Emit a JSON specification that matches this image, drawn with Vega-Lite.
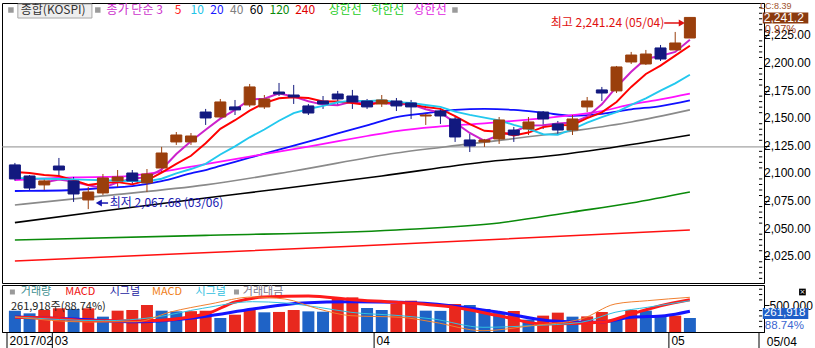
{
"$schema": "https://vega.github.io/schema/vega-lite/v6.json",
"padding": {"left": 1, "top": 1, "right": 0, "bottom": 0},
"background": "white",
"spacing": 0,
"resolve": {"scale": {"color": "independent"}},
"config": {"view": {"stroke": "#000000", "strokeWidth": 1}, "axis": {"labelOverlap": false}},
"datasets": {
"ref": [{"level": 2124}],
"plabels": [{"p":2025},{"p":2050},{"p":2075},{"p":2100},{"p":2125},{"p":2150},{"p":2175},{"p":2200},{"p":2225}],
"ptick": [{"p":2005},{"p":2010},{"p":2015},{"p":2020},{"p":2030},{"p":2035},{"p":2040},{"p":2045},{"p":2055},{"p":2060},{"p":2065},{"p":2070},{"p":2080},{"p":2085},{"p":2090},{"p":2095},{"p":2105},{"p":2110},{"p":2115},{"p":2120},{"p":2130},{"p":2135},{"p":2140},{"p":2145},{"p":2155},{"p":2160},{"p":2165},{"p":2170},{"p":2180},{"p":2185},{"p":2190},{"p":2195},{"p":2205},{"p":2210},{"p":2215},{"p":2220},{"p":2230},{"p":2235},{"p":2240},{"p":2245},{"p":2250}],
"vtick": [{"v":100000},{"v":200000},{"v":300000},{"v":400000},{"v":600000},{"v":700000},{"v":800000}],
"months": [{"b":-0.538},{"b":2.55},{"b":24.48},{"b":44.57},{"b":50.71}],
"candles": [
{"i":0,"d":"02/24","o":2107.7,"h":2109.5,"l":2093.5,"c":2095.0},
{"i":1,"d":"02/27","o":2097.7,"h":2098.6,"l":2085.0,"c":2086.8},
{"i":2,"d":"02/28","o":2089.6,"h":2095.0,"l":2085.0,"c":2093.2},
{"i":3,"d":"03/02","o":2106.7,"h":2114.0,"l":2096.8,"c":2103.1},
{"i":4,"d":"03/03","o":2093.2,"h":2096.8,"l":2074.2,"c":2081.4},
{"i":5,"d":"03/06","o":2076.0,"h":2087.7,"l":2067.68,"c":2083.2},
{"i":6,"d":"03/07","o":2082.3,"h":2099.5,"l":2080.5,"c":2095.9},
{"i":7,"d":"03/08","o":2093.2,"h":2103.1,"l":2087.7,"c":2096.8},
{"i":8,"d":"03/09","o":2100.4,"h":2103.1,"l":2090.5,"c":2093.2},
{"i":9,"d":"03/10","o":2091.4,"h":2104.0,"l":2083.2,"c":2099.5},
{"i":10,"d":"03/13","o":2104.9,"h":2124.0,"l":2101.3,"c":2118.5},
{"i":11,"d":"03/14","o":2128.5,"h":2137.5,"l":2125.8,"c":2134.8},
{"i":12,"d":"03/15","o":2128.5,"h":2136.6,"l":2125.8,"c":2133.9},
{"i":13,"d":"03/16","o":2155.6,"h":2158.4,"l":2143.9,"c":2150.2},
{"i":14,"d":"03/17","o":2151.1,"h":2167.4,"l":2149.3,"c":2164.7},
{"i":15,"d":"03/20","o":2160.2,"h":2166.5,"l":2152.9,"c":2157.5},
{"i":16,"d":"03/21","o":2162.0,"h":2181.0,"l":2160.2,"c":2178.3},
{"i":17,"d":"03/22","o":2160.2,"h":2171.0,"l":2158.4,"c":2167.4},
{"i":18,"d":"03/23","o":2173.7,"h":2181.9,"l":2170.1,"c":2171.9},
{"i":19,"d":"03/24","o":2171.0,"h":2180.1,"l":2162.9,"c":2169.2},
{"i":20,"d":"03/27","o":2161.1,"h":2162.9,"l":2152.9,"c":2154.7},
{"i":21,"d":"03/28","o":2165.6,"h":2170.1,"l":2158.4,"c":2162.9},
{"i":22,"d":"03/29","o":2171.9,"h":2174.7,"l":2162.0,"c":2167.4},
{"i":23,"d":"03/30","o":2170.1,"h":2175.6,"l":2158.4,"c":2164.7},
{"i":24,"d":"03/31","o":2165.6,"h":2167.4,"l":2158.4,"c":2160.2},
{"i":25,"d":"04/03","o":2162.9,"h":2171.0,"l":2160.2,"c":2166.5},
{"i":26,"d":"04/04","o":2165.6,"h":2168.3,"l":2156.5,"c":2161.1},
{"i":27,"d":"04/05","o":2163.8,"h":2166.5,"l":2149.3,"c":2160.2},
{"i":28,"d":"04/06","o":2152.0,"h":2154.1,"l":2143.9,"c":2152.9},
{"i":29,"d":"04/07","o":2156.5,"h":2158.4,"l":2144.8,"c":2152.0},
{"i":30,"d":"04/10","o":2149.3,"h":2151.1,"l":2128.5,"c":2133.0},
{"i":31,"d":"04/11","o":2130.3,"h":2135.7,"l":2119.4,"c":2124.9},
{"i":32,"d":"04/12","o":2128.5,"h":2131.2,"l":2124.0,"c":2130.3},
{"i":33,"d":"04/13","o":2131.2,"h":2151.1,"l":2126.7,"c":2148.4},
{"i":34,"d":"04/14","o":2139.3,"h":2142.1,"l":2128.5,"c":2134.8},
{"i":35,"d":"04/17","o":2140.2,"h":2151.1,"l":2134.8,"c":2146.6},
{"i":36,"d":"04/18","o":2155.6,"h":2156.5,"l":2140.2,"c":2149.3},
{"i":37,"d":"04/19","o":2144.8,"h":2147.5,"l":2134.8,"c":2139.3},
{"i":38,"d":"04/20","o":2139.3,"h":2152.9,"l":2134.8,"c":2149.3},
{"i":39,"d":"04/21","o":2160.2,"h":2169.2,"l":2155.6,"c":2165.6},
{"i":40,"d":"04/24","o":2175.6,"h":2178.3,"l":2165.6,"c":2172.8},
{"i":41,"d":"04/25","o":2174.7,"h":2197.3,"l":2172.8,"c":2196.4},
{"i":42,"d":"04/26","o":2200.9,"h":2210.0,"l":2199.1,"c":2207.2},
{"i":43,"d":"04/27","o":2199.1,"h":2211.8,"l":2198.2,"c":2208.1},
{"i":44,"d":"04/28","o":2213.6,"h":2216.3,"l":2201.8,"c":2203.6},
{"i":45,"d":"05/02","o":2211.8,"h":2228.1,"l":2211.8,"c":2218.1},
{"i":46,"d":"05/04","o":2222.6,"h":2241.24,"l":2222.6,"c":2241.24}
],
"ma": [
{"s":"3","i":2,"v":2091.7},{"s":"3","i":3,"v":2094.4},{"s":"3","i":4,"v":2092.6},{"s":"3","i":5,"v":2089.2},{"s":"3","i":6,"v":2086.8},{"s":"3","i":7,"v":2092.0},{"s":"3","i":8,"v":2095.3},{"s":"3","i":9,"v":2096.5},{"s":"3","i":10,"v":2103.7},{"s":"3","i":11,"v":2117.6},{"s":"3","i":12,"v":2129.1},{"s":"3","i":13,"v":2139.6},{"s":"3","i":14,"v":2149.6},{"s":"3","i":15,"v":2157.5},{"s":"3","i":16,"v":2166.8},{"s":"3","i":17,"v":2167.7},{"s":"3","i":18,"v":2172.5},{"s":"3","i":19,"v":2169.5},{"s":"3","i":20,"v":2165.3},{"s":"3","i":21,"v":2162.3},{"s":"3","i":22,"v":2161.7},{"s":"3","i":23,"v":2165.0},{"s":"3","i":24,"v":2164.1},{"s":"3","i":25,"v":2163.8},{"s":"3","i":26,"v":2162.6},{"s":"3","i":27,"v":2162.6},{"s":"3","i":28,"v":2158.1},{"s":"3","i":29,"v":2155.0},{"s":"3","i":30,"v":2146.0},{"s":"3","i":31,"v":2136.6},{"s":"3","i":32,"v":2129.4},{"s":"3","i":33,"v":2134.5},{"s":"3","i":34,"v":2137.8},{"s":"3","i":35,"v":2143.3},{"s":"3","i":36,"v":2143.6},{"s":"3","i":37,"v":2145.1},{"s":"3","i":38,"v":2146.0},{"s":"3","i":39,"v":2151.4},{"s":"3","i":40,"v":2162.6},{"s":"3","i":41,"v":2178.3},{"s":"3","i":42,"v":2192.1},{"s":"3","i":43,"v":2203.9},{"s":"3","i":44,"v":2206.3},{"s":"3","i":45,"v":2210.0},{"s":"3","i":46,"v":2221.0},
{"s":"5","i":0,"v":2101.3},{"s":"5","i":1,"v":2100.4},{"s":"5","i":2,"v":2098.6},{"s":"5","i":3,"v":2097.7},{"s":"5","i":4,"v":2094.0},{"s":"5","i":5,"v":2089.5},{"s":"5","i":6,"v":2091.4},{"s":"5","i":7,"v":2092.1},{"s":"5","i":8,"v":2090.1},{"s":"5","i":9,"v":2093.7},{"s":"5","i":10,"v":2100.8},{"s":"5","i":11,"v":2108.6},{"s":"5","i":12,"v":2116.0},{"s":"5","i":13,"v":2127.4},{"s":"5","i":14,"v":2140.4},{"s":"5","i":15,"v":2148.2},{"s":"5","i":16,"v":2156.9},{"s":"5","i":17,"v":2163.6},{"s":"5","i":18,"v":2168.0},{"s":"5","i":19,"v":2168.9},{"s":"5","i":20,"v":2168.3},{"s":"5","i":21,"v":2165.2},{"s":"5","i":22,"v":2165.2},{"s":"5","i":23,"v":2163.8},{"s":"5","i":24,"v":2162.0},{"s":"5","i":25,"v":2164.3},{"s":"5","i":26,"v":2164.0},{"s":"5","i":27,"v":2162.5},{"s":"5","i":28,"v":2160.2},{"s":"5","i":29,"v":2158.5},{"s":"5","i":30,"v":2151.8},{"s":"5","i":31,"v":2144.6},{"s":"5","i":32,"v":2138.6},{"s":"5","i":33,"v":2137.7},{"s":"5","i":34,"v":2134.3},{"s":"5","i":35,"v":2137.0},{"s":"5","i":36,"v":2141.9},{"s":"5","i":37,"v":2143.7},{"s":"5","i":38,"v":2143.9},{"s":"5","i":39,"v":2150.0},{"s":"5","i":40,"v":2155.3},{"s":"5","i":41,"v":2164.7},{"s":"5","i":42,"v":2178.3},{"s":"5","i":43,"v":2190.0},{"s":"5","i":44,"v":2197.6},{"s":"5","i":45,"v":2206.7},{"s":"5","i":46,"v":2215.6},
{"s":"10","i":0,"v":2096.0},{"s":"10","i":1,"v":2095.5},{"s":"10","i":2,"v":2095.2},{"s":"10","i":3,"v":2095.0},{"s":"10","i":4,"v":2094.6},{"s":"10","i":5,"v":2094.2},{"s":"10","i":6,"v":2093.8},{"s":"10","i":7,"v":2093.4},{"s":"10","i":8,"v":2093.0},{"s":"10","i":9,"v":2092.8},{"s":"10","i":10,"v":2095.2},{"s":"10","i":11,"v":2100.0},{"s":"10","i":12,"v":2104.0},{"s":"10","i":13,"v":2108.7},{"s":"10","i":14,"v":2117.1},{"s":"10","i":15,"v":2124.5},{"s":"10","i":16,"v":2132.7},{"s":"10","i":17,"v":2139.8},{"s":"10","i":18,"v":2147.7},{"s":"10","i":19,"v":2154.6},{"s":"10","i":20,"v":2158.3},{"s":"10","i":21,"v":2161.1},{"s":"10","i":22,"v":2164.4},{"s":"10","i":23,"v":2165.9},{"s":"10","i":24,"v":2165.4},{"s":"10","i":25,"v":2166.3},{"s":"10","i":26,"v":2164.6},{"s":"10","i":27,"v":2163.9},{"s":"10","i":28,"v":2162.0},{"s":"10","i":29,"v":2160.3},{"s":"10","i":30,"v":2156.0},{"s":"10","i":31,"v":2153.0},{"s":"10","i":32,"v":2150.5},{"s":"10","i":33,"v":2148.0},{"s":"10","i":34,"v":2144.0},{"s":"10","i":35,"v":2140.4},{"s":"10","i":36,"v":2135.5},{"s":"10","i":37,"v":2135.0},{"s":"10","i":38,"v":2140.0},{"s":"10","i":39,"v":2146.0},{"s":"10","i":40,"v":2151.0},{"s":"10","i":41,"v":2155.5},{"s":"10","i":42,"v":2162.0},{"s":"10","i":43,"v":2168.0},{"s":"10","i":44,"v":2175.0},{"s":"10","i":45,"v":2181.5},{"s":"10","i":46,"v":2189.4},
{"s":"20","i":0,"v":2084.1},{"s":"20","i":2,"v":2084.3},{"s":"20","i":4,"v":2085.0},{"s":"20","i":6,"v":2086.8},{"s":"20","i":8,"v":2088.5},{"s":"20","i":10,"v":2093.0},{"s":"20","i":12,"v":2100.0},{"s":"20","i":13,"v":2103.1},{"s":"20","i":14,"v":2106.8},{"s":"20","i":16,"v":2114.2},{"s":"20","i":18,"v":2121.6},{"s":"20","i":20,"v":2128.8},{"s":"20","i":22,"v":2136.2},{"s":"20","i":24,"v":2143.5},{"s":"20","i":26,"v":2150.9},{"s":"20","i":28,"v":2154.5},{"s":"20","i":30,"v":2157.5},{"s":"20","i":32,"v":2158.4},{"s":"20","i":34,"v":2157.5},{"s":"20","i":36,"v":2155.0},{"s":"20","i":38,"v":2152.2},{"s":"20","i":40,"v":2154.0},{"s":"20","i":42,"v":2158.0},{"s":"20","i":44,"v":2161.0},{"s":"20","i":46,"v":2166.2},
{"s":"40","i":0,"v":2071.4},{"s":"40","i":6,"v":2079.6},{"s":"40","i":13,"v":2089.6},{"s":"40","i":19,"v":2102.2},{"s":"40","i":26,"v":2118.5},{"s":"40","i":31,"v":2126.7},{"s":"40","i":38,"v":2138.4},{"s":"40","i":42,"v":2146.6},{"s":"40","i":46,"v":2157.5},
{"s":"60","i":0,"v":2055.5},{"s":"60","i":6,"v":2066.0},{"s":"60","i":13,"v":2077.8},{"s":"60","i":18,"v":2085.9},{"s":"60","i":25,"v":2097.7},{"s":"60","i":32,"v":2110.4},{"s":"60","i":37,"v":2116.7},{"s":"60","i":40,"v":2122.1},{"s":"60","i":46,"v":2134.8},
{"s":"120","i":0,"v":2039.8},{"s":"120","i":13,"v":2043.9},{"s":"120","i":26,"v":2048.8},{"s":"120","i":33,"v":2055.2},{"s":"120","i":38,"v":2065.1},{"s":"120","i":42,"v":2073.2},{"s":"120","i":46,"v":2083.2},
{"s":"240","i":0,"v":2020.8},{"s":"240","i":23,"v":2034.0},{"s":"240","i":46,"v":2048.8},
{"s":"env","i":0,"v":2094.0},{"s":"env","i":4,"v":2096.5},{"s":"env","i":7,"v":2097.0},{"s":"env","i":10,"v":2101.5},{"s":"env","i":13,"v":2108.5},{"s":"env","i":16,"v":2115.3},{"s":"env","i":20,"v":2124.2},{"s":"env","i":24,"v":2133.9},{"s":"env","i":26,"v":2138.4},{"s":"env","i":29,"v":2142.5},{"s":"env","i":32,"v":2145.3},{"s":"env","i":35,"v":2148.7},{"s":"env","i":38,"v":2152.8},{"s":"env","i":40,"v":2156.5},{"s":"env","i":42,"v":2162.5},{"s":"env","i":44,"v":2167.0},{"s":"env","i":46,"v":2172.2}
],
"vol": [
{"i":0,"v":398000,"up":0},{"i":1,"v":349000,"up":0},{"i":2,"v":411000,"up":1},{"i":3,"v":443000,"up":1},{"i":4,"v":430000,"up":0},{"i":5,"v":443000,"up":1},{"i":6,"v":287000,"up":0},{"i":7,"v":399000,"up":1},{"i":8,"v":411000,"up":1},{"i":9,"v":505000,"up":1},{"i":10,"v":399000,"up":0},{"i":11,"v":386000,"up":0},{"i":12,"v":390000,"up":1},{"i":13,"v":398000,"up":1},{"i":14,"v":262000,"up":0},{"i":15,"v":324000,"up":1},{"i":16,"v":411000,"up":1},{"i":17,"v":368000,"up":0},{"i":18,"v":375000,"up":1},{"i":19,"v":411000,"up":1},{"i":20,"v":386000,"up":0},{"i":21,"v":380000,"up":0},{"i":22,"v":630000,"up":1},{"i":23,"v":648000,"up":1},{"i":24,"v":449000,"up":0},{"i":25,"v":411000,"up":0},{"i":26,"v":524000,"up":1},{"i":27,"v":586000,"up":1},{"i":28,"v":399000,"up":0},{"i":29,"v":395000,"up":0},{"i":30,"v":524000,"up":1},{"i":31,"v":505000,"up":0},{"i":32,"v":430000,"up":0},{"i":33,"v":355000,"up":0},{"i":34,"v":393000,"up":1},{"i":35,"v":231000,"up":0},{"i":36,"v":306000,"up":1},{"i":37,"v":362000,"up":1},{"i":38,"v":287000,"up":0},{"i":39,"v":292000,"up":1},{"i":40,"v":374000,"up":1},{"i":41,"v":224000,"up":0},{"i":42,"v":411000,"up":1},{"i":43,"v":399000,"up":0},{"i":44,"v":293000,"up":0},{"i":45,"v":306000,"up":1},{"i":46,"v":261918,"up":0}
],
"macd": [
{"s":"macd","i":0,"m":2.7},{"s":"macd","i":3,"m":1.5},{"s":"macd","i":5,"m":-0.7},{"s":"macd","i":9,"m":-0.7},{"s":"macd","i":13,"m":6},{"s":"macd","i":15,"m":18},{"s":"macd","i":17,"m":23},{"s":"macd","i":20,"m":24},{"s":"macd","i":23,"m":20.3},{"s":"macd","i":26,"m":17.7},{"s":"macd","i":30,"m":12.5},{"s":"macd","i":33,"m":4.3},{"s":"macd","i":36,"m":-4},{"s":"macd","i":40,"m":-2.3},{"s":"macd","i":42,"m":6},{"s":"macd","i":44,"m":14.3},{"s":"macd","i":46,"m":20.3},
{"s":"signal","i":0,"m":3},{"s":"signal","i":4,"m":1},{"s":"signal","i":8.3,"m":-1.7},{"s":"signal","i":12.8,"m":3.3},{"s":"signal","i":16.2,"m":11},{"s":"signal","i":19.6,"m":17},{"s":"signal","i":22.9,"m":18.3},{"s":"signal","i":26.3,"m":17.7},{"s":"signal","i":29.7,"m":14.3},{"s":"signal","i":33,"m":7.7},{"s":"signal","i":36.4,"m":-0.7},{"s":"signal","i":39.7,"m":-2.3},{"s":"signal","i":42,"m":2.7},{"s":"signal","i":44.3,"m":4.3},{"s":"signal","i":46,"m":8.7},
{"s":"macd2","i":0,"m":3},{"s":"macd2","i":5,"m":-2},{"s":"macd2","i":8.3,"m":-1.7},{"s":"macd2","i":10.6,"m":8},{"s":"macd2","i":13.3,"m":16},{"s":"macd2","i":16.2,"m":23},{"s":"macd2","i":18.4,"m":21},{"s":"macd2","i":20.7,"m":11},{"s":"macd2","i":22.9,"m":4.3},{"s":"macd2","i":26.3,"m":2.7},{"s":"macd2","i":28.5,"m":-2},{"s":"macd2","i":31.9,"m":-10.7},{"s":"macd2","i":35.2,"m":-5.7},{"s":"macd2","i":38.6,"m":1},{"s":"macd2","i":40.9,"m":16},{"s":"macd2","i":43.1,"m":19.3},{"s":"macd2","i":46,"m":22.7},
{"s":"signal2","i":0,"m":3},{"s":"signal2","i":6.1,"m":-0.7},{"s":"signal2","i":9.5,"m":2.7},{"s":"signal2","i":12.8,"m":11.7},{"s":"signal2","i":16.2,"m":18.3},{"s":"signal2","i":18.4,"m":17},{"s":"signal2","i":20.7,"m":12.7},{"s":"signal2","i":22.9,"m":7.7},{"s":"signal2","i":26.3,"m":4.3},{"s":"signal2","i":28.5,"m":1},{"s":"signal2","i":31.9,"m":-7.3},{"s":"signal2","i":35.2,"m":-5.7},{"s":"signal2","i":38.6,"m":-2.3},{"s":"signal2","i":40.9,"m":7.7},{"s":"signal2","i":43.1,"m":12.7},{"s":"signal2","i":46,"m":19.3}
]
},
"vconcat": [
{
"width": 762, "height": 280,
"layer": [
{"data": {"name": "ref"}, "mark": {"type": "rule", "color": "#8c8c8c", "strokeWidth": 1},
 "encoding": {"y": {"field": "level", "type": "quantitative", "scale": {"domain": [2000.8, 2254.3], "nice": false, "zero": false},
   "axis": {"orient": "right", "title": null, "grid": false, "domainColor": "#000000", "tickColor": "#000000", "tickSize": 5, "labels": false,
    "values": [2025, 2050, 2075, 2100, 2125, 2150, 2175, 2200, 2225]}}}},
{"data": {"name": "ptick"}, "mark": {"type": "rule", "color": "#000000", "strokeWidth": 1},
 "encoding": {"x": {"datum": 50.71, "type": "quantitative", "scale": {"domain": [-0.538, 50.71], "nice": false, "zero": false}, "axis": null}, "x2": {"datum": 50.93}, "y": {"field": "p", "type": "quantitative"}}},
{"data": {"name": "plabels"}, "mark": {"type": "text", "align": "left", "baseline": "middle", "font": "Liberation Sans", "fontSize": 12, "color": "#000000"},
 "encoding": {"x": {"datum": 51.05, "type": "quantitative", "axis": null}, "y": {"field": "p", "type": "quantitative"}, "text": {"field": "p", "type": "quantitative", "format": ",.2f"}}},
{"data": {"name": "ma"}, "transform": [{"filter": {"field": "s", "oneOf": ["240", "120", "60", "40", "env", "20"]}}],
 "mark": {"type": "line", "interpolate": "monotone"},
 "encoding": {
  "x": {"field": "i", "type": "quantitative", "axis": null},
  "y": {"field": "v", "type": "quantitative"},
  "color": {"field": "s", "type": "nominal", "scale": {"domain": ["3", "5", "10", "20", "40", "60", "120", "240", "env"], "range": ["#cc22cc", "#ff0000", "#22c8ee", "#1010ff", "#8a8a8a", "#000000", "#0a8a0a", "#ff1010", "#ff10ff"]}, "legend": null},
  "strokeWidth": {"field": "s", "type": "nominal", "scale": {"domain": ["240", "120", "60", "40", "env", "20"], "range": [1.5, 2, 2.5, 1, 3.5, 2.5]}, "legend": null},
  "order": {"field": "i"}
 }},
{"data": {"name": "candles"}, "mark": {"type": "rule", "strokeWidth": 1},
 "encoding": {
  "x": {"field": "i", "type": "quantitative", "axis": null},
  "y": {"field": "l", "type": "quantitative"},
  "y2": {"field": "h"},
  "color": {"condition": {"test": "datum.c >= datum.o", "value": "#9a3f0c"}, "value": "#12197f"}
 }},
{"data": {"name": "ma"}, "transform": [{"filter": {"field": "s", "oneOf": ["10", "5", "3"]}}],
 "mark": {"type": "line"},
 "encoding": {
  "x": {"field": "i", "type": "quantitative", "axis": null},
  "y": {"field": "v", "type": "quantitative"},
  "color": {"field": "s", "type": "nominal", "scale": {"domain": ["3", "5", "10", "20", "40", "60", "120", "240", "env"], "range": ["#cc22cc", "#ff0000", "#22c8ee", "#1010ff", "#8a8a8a", "#000000", "#0a8a0a", "#ff1010", "#ff10ff"]}, "legend": null},
  "strokeWidth": {"field": "s", "type": "nominal", "scale": {"domain": ["10", "5", "3"], "range": [2.5, 2.5, 1]}, "legend": null},
  "order": {"field": "i"}
 }},
{"data": {"name": "candles"}, "mark": {"type": "bar", "width": 11, "strokeWidth": 1},
 "encoding": {
  "x": {"field": "i", "type": "quantitative", "axis": null},
  "y": {"field": "o", "type": "quantitative"},
  "y2": {"field": "c"},
  "fill": {"condition": {"test": "datum.c >= datum.o", "value": "#9a3f0c"}, "value": "#12197f"},
  "stroke": {"condition": {"test": "datum.c >= datum.o", "value": "#9a3f0c"}, "value": "#12197f"}
 }},
{"data": {"values": [{}]}, "mark": {"type": "point", "shape": "square", "filled": true, "size": 30, "color": "#9a9a9a", "opacity": 1},
 "encoding": {"x": {"datum": -0.27, "type": "quantitative", "axis": null}, "y": {"datum": 2247.96, "type": "quantitative"}}},
{"data": {"values": [{}]}, "mark": {"type": "rect", "fill": "#eeeeee", "stroke": "#a8a8a8", "strokeWidth": 1},
 "encoding": {"x": {"datum": 0.2, "type": "quantitative", "axis": null}, "x2": {"datum": 5.25}, "y": {"datum": 2253.4, "type": "quantitative"}, "y2": {"datum": 2240.7}}},
{"data": {"values": [{}]}, "mark": {"type": "text", "text": "종합(KOSPI)", "align": "left", "baseline": "middle", "font": "Noto Sans CJK KR", "fontSize": 12, "color": "#333333"},
 "encoding": {"x": {"datum": 0.4, "type": "quantitative", "axis": null}, "y": {"datum": 2247.96, "type": "quantitative"}}},
{"data": {"values": [{}]}, "mark": {"type": "point", "shape": "square", "filled": true, "size": 30, "color": "#9a9a9a", "opacity": 1},
 "encoding": {"x": {"datum": 5.65, "type": "quantitative", "axis": null}, "y": {"datum": 2247.96, "type": "quantitative"}}},
{"data": {"values": [{}]}, "mark": {"type": "text", "text": "종가 단순 3", "align": "left", "baseline": "middle", "font": "Noto Sans CJK KR", "fontSize": 12, "color": "#cc33cc"},
 "encoding": {"x": {"datum": 6.25, "type": "quantitative", "axis": null}, "y": {"datum": 2247.96, "type": "quantitative"}}},
{"data": {"values": [{}]}, "mark": {"type": "text", "text": "5", "align": "left", "baseline": "middle", "font": "Noto Sans CJK KR", "fontSize": 12, "color": "#ff2020"},
 "encoding": {"x": {"datum": 10.89, "type": "quantitative", "axis": null}, "y": {"datum": 2247.96, "type": "quantitative"}}},
{"data": {"values": [{}]}, "mark": {"type": "text", "text": "10", "align": "left", "baseline": "middle", "font": "Noto Sans CJK KR", "fontSize": 12, "color": "#22c4e8"},
 "encoding": {"x": {"datum": 11.97, "type": "quantitative", "axis": null}, "y": {"datum": 2247.96, "type": "quantitative"}}},
{"data": {"values": [{}]}, "mark": {"type": "text", "text": "20", "align": "left", "baseline": "middle", "font": "Noto Sans CJK KR", "fontSize": 12, "color": "#1a1aff"},
 "encoding": {"x": {"datum": 13.32, "type": "quantitative", "axis": null}, "y": {"datum": 2247.96, "type": "quantitative"}}},
{"data": {"values": [{}]}, "mark": {"type": "text", "text": "40", "align": "left", "baseline": "middle", "font": "Noto Sans CJK KR", "fontSize": 12, "color": "#808080"},
 "encoding": {"x": {"datum": 14.66, "type": "quantitative", "axis": null}, "y": {"datum": 2247.96, "type": "quantitative"}}},
{"data": {"values": [{}]}, "mark": {"type": "text", "text": "60", "align": "left", "baseline": "middle", "font": "Noto Sans CJK KR", "fontSize": 12, "color": "#000000"},
 "encoding": {"x": {"datum": 16.01, "type": "quantitative", "axis": null}, "y": {"datum": 2247.96, "type": "quantitative"}}},
{"data": {"values": [{}]}, "mark": {"type": "text", "text": "120", "align": "left", "baseline": "middle", "font": "Noto Sans CJK KR", "fontSize": 12, "color": "#0a8a0a"},
 "encoding": {"x": {"datum": 17.35, "type": "quantitative", "axis": null}, "y": {"datum": 2247.96, "type": "quantitative"}}},
{"data": {"values": [{}]}, "mark": {"type": "text", "text": "240", "align": "left", "baseline": "middle", "font": "Noto Sans CJK KR", "fontSize": 12, "color": "#e00000"},
 "encoding": {"x": {"datum": 19.1, "type": "quantitative", "axis": null}, "y": {"datum": 2247.96, "type": "quantitative"}}},
{"data": {"values": [{}]}, "mark": {"type": "text", "text": "상한선", "align": "left", "baseline": "middle", "font": "Noto Sans CJK KR", "fontSize": 12, "color": "#22cc22"},
 "encoding": {"x": {"datum": 21.39, "type": "quantitative", "axis": null}, "y": {"datum": 2247.96, "type": "quantitative"}}},
{"data": {"values": [{}]}, "mark": {"type": "text", "text": "하한선", "align": "left", "baseline": "middle", "font": "Noto Sans CJK KR", "fontSize": 12, "color": "#22cc22"},
 "encoding": {"x": {"datum": 24.28, "type": "quantitative", "axis": null}, "y": {"datum": 2247.96, "type": "quantitative"}}},
{"data": {"values": [{}]}, "mark": {"type": "text", "text": "상한선", "align": "left", "baseline": "middle", "font": "Noto Sans CJK KR", "fontSize": 12, "color": "#e022e0"},
 "encoding": {"x": {"datum": 27.17, "type": "quantitative", "axis": null}, "y": {"datum": 2247.96, "type": "quantitative"}}},
{"data": {"values": [{}]}, "mark": {"type": "point", "shape": "square", "filled": true, "size": 30, "color": "#9a9a9a", "opacity": 1},
 "encoding": {"x": {"datum": 29.99, "type": "quantitative", "axis": null}, "y": {"datum": 2247.96, "type": "quantitative"}}},
{"data": {"values": [{}]}, "mark": {"type": "text", "text": "최고 2,241.24 (05/04)", "align": "left", "baseline": "middle", "font": "Noto Sans CJK KR", "fontSize": 12, "color": "#e01010"},
 "encoding": {"x": {"datum": 36.52, "type": "quantitative", "axis": null}, "y": {"datum": 2236.2, "type": "quantitative"}}},
{"data": {"values": [{}]}, "mark": {"type": "rule", "color": "#e01010", "strokeWidth": 1.5},
 "encoding": {"x": {"datum": 44.25, "type": "quantitative", "axis": null}, "x2": {"datum": 45.3}, "y": {"datum": 2236.2, "type": "quantitative"}}},
{"data": {"values": [{}]}, "mark": {"type": "point", "shape": "triangle-right", "filled": true, "size": 50, "color": "#e01010", "opacity": 1},
 "encoding": {"x": {"datum": 45.45, "type": "quantitative", "axis": null}, "y": {"datum": 2236.2, "type": "quantitative"}}},
{"data": {"values": [{}]}, "mark": {"type": "text", "text": "최저 2,067.68 (03/06)", "align": "left", "baseline": "middle", "font": "Noto Sans CJK KR", "fontSize": 12, "color": "#1616b0"},
 "encoding": {"x": {"datum": 6.46, "type": "quantitative", "axis": null}, "y": {"datum": 2073.2, "type": "quantitative"}}},
{"data": {"values": [{}]}, "mark": {"type": "rule", "color": "#1616b0", "strokeWidth": 1.5},
 "encoding": {"x": {"datum": 5.8, "type": "quantitative", "axis": null}, "x2": {"datum": 6.35}, "y": {"datum": 2073.2, "type": "quantitative"}}},
{"data": {"values": [{}]}, "mark": {"type": "point", "shape": "triangle-left", "filled": true, "size": 50, "color": "#1616b0", "opacity": 1},
 "encoding": {"x": {"datum": 5.72, "type": "quantitative", "axis": null}, "y": {"datum": 2073.2, "type": "quantitative"}}},
{"data": {"values": [{}]}, "mark": {"type": "text", "text": "LC:8.39", "align": "left", "baseline": "middle", "font": "Liberation Sans", "fontSize": 9, "color": "#a0522d"},
 "encoding": {"x": {"datum": 50.77, "type": "quantitative", "axis": null}, "y": {"datum": 2251.9, "type": "quantitative"}}},
{"data": {"values": [{}]}, "mark": {"type": "rect", "fill": "#8b3a0f"},
 "encoding": {"x": {"datum": 50.97, "type": "quantitative", "axis": null}, "x2": {"datum": 54.07}, "y": {"datum": 2245.7, "type": "quantitative"}, "y2": {"datum": 2235.7}}},
{"data": {"values": [{}]}, "mark": {"type": "text", "text": "2,241.2", "align": "left", "baseline": "middle", "font": "Liberation Sans", "fontSize": 12, "color": "#ffffff"},
 "encoding": {"x": {"datum": 51.04, "type": "quantitative", "axis": null}, "y": {"datum": 2240.7, "type": "quantitative"}}},
{"data": {"values": [{}]}, "mark": {"type": "text", "text": "0.97%", "align": "left", "baseline": "middle", "font": "Liberation Sans", "fontSize": 11, "color": "#a0401a"},
 "encoding": {"x": {"datum": 51.11, "type": "quantitative", "axis": null}, "y": {"datum": 2230.0, "type": "quantitative"}}}
]
},
{
"width": 762, "height": 47,
"resolve": {"scale": {"y": "independent"}},
"layer": [
{"layer": [
 {"data": {"name": "vol"}, "mark": {"type": "bar", "width": 12},
  "encoding": {
   "x": {"field": "i", "type": "quantitative", "scale": {"domain": [-0.538, 50.71], "nice": false, "zero": false},
    "axis": {"orient": "bottom", "title": null, "grid": false, "domainColor": "#000000", "ticks": false, "labelAlign": "left", "labelBaseline": "top", "labelPadding": 3, "labelOffset": 2, "labelFont": "Liberation Sans", "labelFontSize": 12, "labelColor": "#000000", "labelBound": false, "labelOverlap": false, "labelFlush": false,
     "values": [-0.538, 2.55, 24.48, 44.57], "labelExpr": "datum.value < 0 ? '2017/02' : (datum.value < 10 ? '03' : (datum.value < 30 ? '04' : '05'))"}},
   "y": {"field": "v", "type": "quantitative", "scale": {"domain": [0, 879000], "nice": false, "zero": true},
    "axis": {"orient": "right", "title": null, "grid": false, "domainColor": "#000000", "tickColor": "#000000", "tickSize": 5, "labelPadding": 0, "labelFont": "Liberation Sans", "labelFontSize": 12, "labelColor": "#000000", "labelOverlap": false,
     "values": [500000], "format": ",d"}},
   "color": {"condition": {"test": "datum.up == 1", "value": "#e8281e"}, "value": "#1f63c6"}
  }},
 {"data": {"name": "vtick"}, "mark": {"type": "rule", "color": "#000000", "strokeWidth": 1},
  "encoding": {"x": {"datum": 50.71, "type": "quantitative"}, "x2": {"datum": 50.93}, "y": {"field": "v", "type": "quantitative"}}},
 {"data": {"name": "months"}, "mark": {"type": "rule", "color": "#000000", "strokeWidth": 1},
  "encoding": {"x": {"field": "b", "type": "quantitative"}, "y": {"datum": 0, "type": "quantitative"}, "y2": {"datum": -374040}}},
 {"data": {"values": [{}]}, "mark": {"type": "point", "shape": "square", "filled": true, "size": 25, "color": "#9a9a9a", "opacity": 1},
  "encoding": {"x": {"datum": -0.17, "type": "quantitative"}, "y": {"datum": 748080, "type": "quantitative"}}},
 {"data": {"values": [{}]}, "mark": {"type": "text", "text": "거래량", "align": "left", "baseline": "middle", "font": "Noto Sans CJK KR", "fontSize": 11, "color": "#3f8f8f"},
  "encoding": {"x": {"datum": 0.4, "type": "quantitative"}, "y": {"datum": 748080, "type": "quantitative"}}},
 {"data": {"values": [{}]}, "mark": {"type": "text", "text": "MACD", "align": "left", "baseline": "middle", "font": "Noto Sans CJK KR", "fontSize": 11, "color": "#ee1111"},
  "encoding": {"x": {"datum": 3.43, "type": "quantitative"}, "y": {"datum": 748080, "type": "quantitative"}}},
 {"data": {"values": [{}]}, "mark": {"type": "text", "text": "시그널", "align": "left", "baseline": "middle", "font": "Noto Sans CJK KR", "fontSize": 11, "color": "#1a1aa0"},
  "encoding": {"x": {"datum": 6.46, "type": "quantitative"}, "y": {"datum": 748080, "type": "quantitative"}}},
 {"data": {"values": [{}]}, "mark": {"type": "text", "text": "MACD", "align": "left", "baseline": "middle", "font": "Noto Sans CJK KR", "fontSize": 11, "color": "#f08020"},
  "encoding": {"x": {"datum": 9.35, "type": "quantitative"}, "y": {"datum": 748080, "type": "quantitative"}}},
 {"data": {"values": [{}]}, "mark": {"type": "text", "text": "시그널", "align": "left", "baseline": "middle", "font": "Noto Sans CJK KR", "fontSize": 11, "color": "#30c0e0"},
  "encoding": {"x": {"datum": 12.31, "type": "quantitative"}, "y": {"datum": 748080, "type": "quantitative"}}},
 {"data": {"values": [{}]}, "mark": {"type": "point", "shape": "square", "filled": true, "size": 25, "color": "#9a9a9a", "opacity": 1},
  "encoding": {"x": {"datum": 15.1, "type": "quantitative"}, "y": {"datum": 748080, "type": "quantitative"}}},
 {"data": {"values": [{}]}, "mark": {"type": "text", "text": "거래대금", "align": "left", "baseline": "middle", "font": "Noto Sans CJK KR", "fontSize": 11, "color": "#807888"},
  "encoding": {"x": {"datum": 15.53, "type": "quantitative"}, "y": {"datum": 748080, "type": "quantitative"}}},
 {"data": {"values": [{}]}, "mark": {"type": "text", "text": "261,918주(88.74%)", "align": "left", "baseline": "middle", "font": "Noto Sans CJK KR", "fontSize": 11, "color": "#222222"},
  "encoding": {"x": {"datum": -0.27, "type": "quantitative"}, "y": {"datum": 476000, "type": "quantitative"}}},
 {"data": {"values": [{}]}, "mark": {"type": "point", "shape": "square", "filled": true, "size": 45, "color": "#000000", "opacity": 1},
  "encoding": {"x": {"datum": 53.67, "type": "quantitative"}, "y": {"datum": 748080, "type": "quantitative"}}},
 {"data": {"values": [{}]}, "mark": {"type": "text", "text": "×", "align": "center", "baseline": "middle", "font": "DejaVu Sans", "fontSize": 7, "color": "#ffffff"},
  "encoding": {"x": {"datum": 53.67, "type": "quantitative"}, "y": {"datum": 748080, "type": "quantitative"}}},
 {"data": {"values": [{}]}, "mark": {"type": "rect", "fill": "#1f5fc8"},
  "encoding": {"x": {"datum": 50.97, "type": "quantitative"}, "x2": {"datum": 54.07}, "y": {"datum": 448800, "type": "quantitative"}, "y2": {"datum": 243100}}},
 {"data": {"values": [{}]}, "mark": {"type": "text", "text": "261,918", "align": "left", "baseline": "middle", "font": "Liberation Sans", "fontSize": 11.5, "color": "#ffffff"},
  "encoding": {"x": {"datum": 51.04, "type": "quantitative"}, "y": {"datum": 346000, "type": "quantitative"}}},
 {"data": {"values": [{}]}, "mark": {"type": "text", "text": "88.74%", "align": "left", "baseline": "middle", "font": "Liberation Sans", "fontSize": 11.5, "color": "#3a66d0"},
  "encoding": {"x": {"datum": 51.11, "type": "quantitative"}, "y": {"datum": 112000, "type": "quantitative"}}},
 {"data": {"values": [{}]}, "mark": {"type": "text", "text": "05/04", "align": "left", "baseline": "middle", "font": "Liberation Sans", "fontSize": 12, "color": "#000000"},
  "encoding": {"x": {"datum": 51.24, "type": "quantitative"}, "y": {"datum": -187020, "type": "quantitative"}}}
]},
{"layer": [
 {"data": {"name": "macd"}, "transform": [{"filter": "datum.s == 'signal'"}], "mark": {"type": "line", "color": "#1414ff", "strokeWidth": 3, "interpolate": "monotone"},
  "encoding": {"x": {"field": "i", "type": "quantitative"}, "y": {"field": "m", "type": "quantitative", "scale": {"domain": [-12, 35], "nice": false, "zero": false},
   "axis": {"orient": "left", "title": null, "labels": false, "ticks": false, "domain": false, "grid": false}}}},
 {"data": {"name": "macd"}, "transform": [{"filter": "datum.s == 'macd'"}], "mark": {"type": "line", "color": "#ff1a1a", "strokeWidth": 3, "interpolate": "monotone"},
  "encoding": {"x": {"field": "i", "type": "quantitative"}, "y": {"field": "m", "type": "quantitative"}}},
 {"data": {"name": "macd"}, "transform": [{"filter": "datum.s == 'signal2'"}], "mark": {"type": "line", "color": "#30c0e0", "strokeWidth": 1, "interpolate": "monotone"},
  "encoding": {"x": {"field": "i", "type": "quantitative"}, "y": {"field": "m", "type": "quantitative"}}},
 {"data": {"name": "macd"}, "transform": [{"filter": "datum.s == 'macd2'"}], "mark": {"type": "line", "color": "#f08030", "strokeWidth": 1, "interpolate": "monotone"},
  "encoding": {"x": {"field": "i", "type": "quantitative"}, "y": {"field": "m", "type": "quantitative"}}}
]}
]
}
]
}
